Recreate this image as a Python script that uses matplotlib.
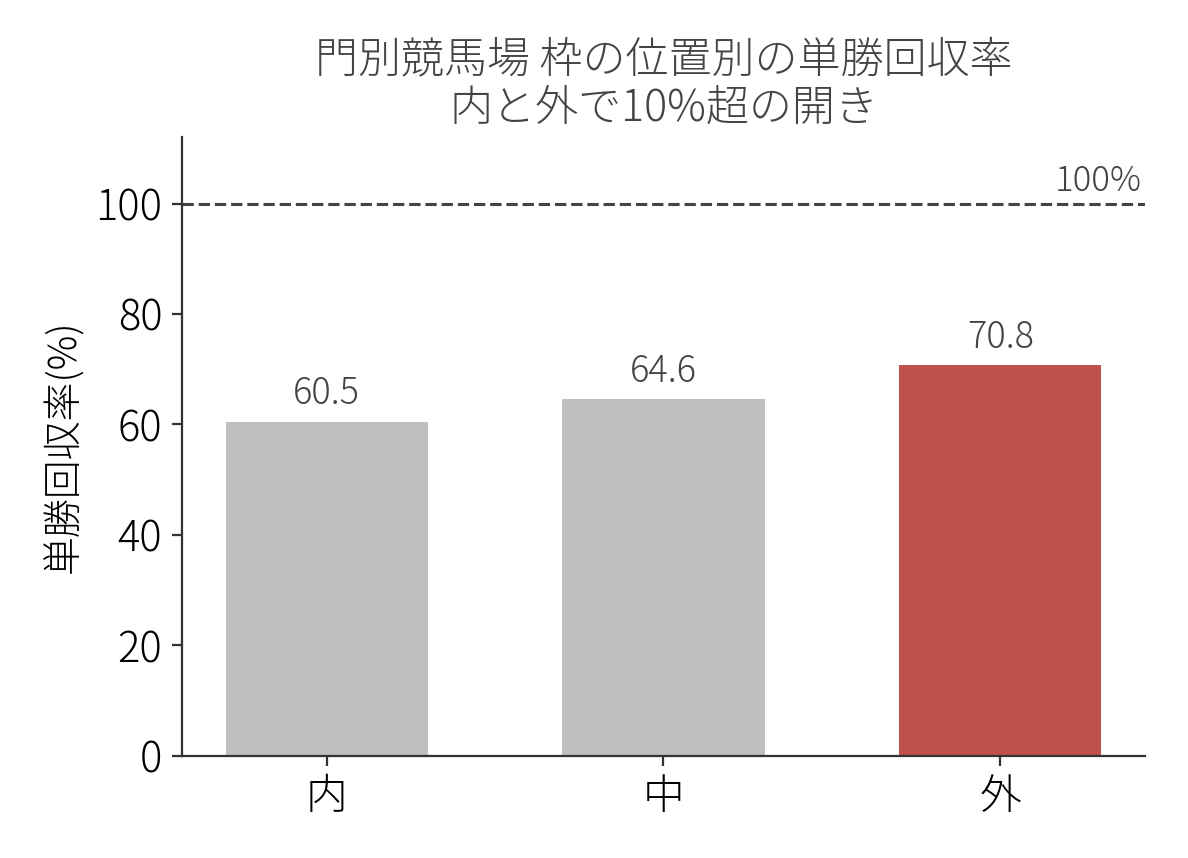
import matplotlib
matplotlib.use("Agg")
import matplotlib.pyplot as plt

plt.rcParams['font.family'] = ['Noto Sans CJK JP', 'DejaVu Sans']
plt.rcParams['font.weight'] = 'light'
plt.rcParams['axes.titleweight'] = 'light'
plt.rcParams['axes.labelweight'] = 'light'

# data
categories = ['内', '中', '外']
win_return = [60.5, 64.6, 70.8]
bar_colors = ['#bfbfbf', '#bfbfbf', '#c0504d']
baseline = 100

fig, ax = plt.subplots(figsize=(5.94, 4.29), dpi=200)

bars = ax.bar(categories, win_return, width=0.6, color=bar_colors)
for rect, v in zip(bars, win_return):
    ax.text(rect.get_x() + rect.get_width() / 2, v + 1.5, f'{v:.1f}',
            ha='center', va='bottom', fontsize=13, color='#444444')

ax.axhline(baseline, color='#444444', linestyle='--', linewidth=1.1)
ax.text(2.42, baseline + 0.8, '100%', ha='right', va='bottom',
        fontsize=12.5, color='#444444')

ax.set_ylim(0, 112)
ax.set_ylabel('単勝回収率(%)', fontsize=14)
ax.set_title('門別競馬場 枠の位置別の単勝回収率\n内と外で10%超の開き',
             fontsize=15.5, color='#444444', linespacing=1.1)
ax.tick_params(labelsize=15, color='#333333')
for side in ('top', 'right'):
    ax.spines[side].set_visible(False)
for side in ('left', 'bottom'):
    ax.spines[side].set_color('#333333')

fig.subplots_adjust(left=0.153, right=0.964, top=0.84, bottom=0.119)
fig.savefig('out.png', dpi=200)
